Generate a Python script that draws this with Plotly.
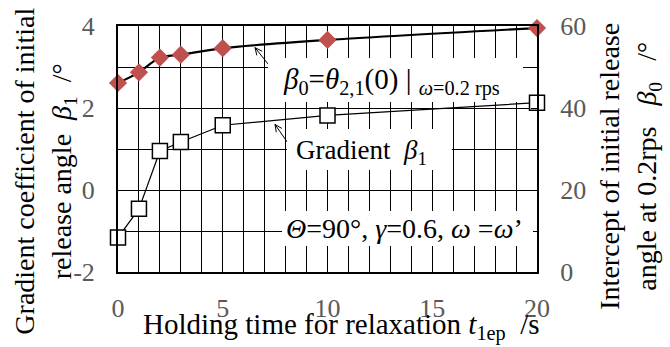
import math
import plotly.graph_objects as go

# ---- data ----
t_hold = [0, 1, 2, 3, 5, 10, 20]
beta1 = [-1.16, -0.46, 0.95, 1.17, 1.58, 1.82, 2.13]
beta0 = [46.1, 48.7, 52.3, 53.0, 54.6, 56.6, 59.5]

x_ticks = [0, 5, 10, 15, 20]
y1_ticks = [-2, 0, 2, 4]
y2_ticks = [0, 20, 40, 60]

FONT = "Liberation Serif"
TICKC = "#595959"
W, H = 670, 347
L, R, T, B = 118, 133, 22, 75
PW, PH = W - L - R, H - T - B


def px(xp):
    return (xp - L) / PW


def py(yp):
    return (H - B - yp) / PH


# grid positions every unit on the left axis, labels only on the listed ticks
y1_grid = list(range(y1_ticks[0], y1_ticks[-1] + 1))
y1_text = [str(v) if v in y1_ticks else "" for v in y1_grid]
y2_grid = list(range(y2_ticks[0], y2_ticks[-1] + 1, 10))
y2_text = [str(v) if v in y2_ticks else "" for v in y2_grid]

fig = go.Figure()
fig.add_trace(go.Scatter(
    x=t_hold, y=beta1, mode="lines+markers", yaxis="y",
    line=dict(color="black", width=1.2),
    marker=dict(symbol="square", size=15, color="white",
                line=dict(color="black", width=1.5)),
    cliponaxis=False, showlegend=False))
fig.add_trace(go.Scatter(
    x=t_hold, y=beta0, mode="lines+markers", yaxis="y2",
    line=dict(color="black", width=2.2, shape="spline", smoothing=0.8),
    marker=dict(symbol="diamond", size=14, color="#C0504D",
                line=dict(width=0)),
    cliponaxis=False, showlegend=False))

tickfont = dict(family=FONT, size=26, color=TICKC)
fig.update_layout(
    width=W, height=H,
    margin=dict(l=L, r=R, t=T, b=B),
    paper_bgcolor="white", plot_bgcolor="white",
    xaxis=dict(range=[x_ticks[0], x_ticks[-1]], tickvals=x_ticks,
               tickfont=tickfont,
               showgrid=True, gridcolor="black", gridwidth=1,
               ticks="outside", ticklen=12, tickcolor="rgba(0,0,0,0)",
               minor=dict(dtick=1, showgrid=True, gridcolor="black",
                          gridwidth=1),
               showline=True, linecolor="black", linewidth=2, mirror=True,
               zeroline=False),
    yaxis=dict(range=[y1_ticks[0], y1_ticks[-1]], tickvals=y1_grid,
               ticktext=y1_text, tickfont=tickfont,
               showgrid=True, gridcolor="black", gridwidth=1,
               showline=True, linecolor="black", linewidth=2, mirror=True,
               zeroline=False, ticks="", ticklabelstandoff=16),
    yaxis2=dict(range=[y2_ticks[0], y2_ticks[-1]], tickvals=y2_grid,
                ticktext=y2_text, tickfont=tickfont,
                overlaying="y", side="right", showgrid=False,
                ticks="inside", ticklen=6, tickcolor="black",
                showline=True, linecolor="black", linewidth=2,
                zeroline=False, ticklabelstandoff=16),
)

# arrows drawn as shapes (line + open head), positions in pixels -> paper
def arrow(tail, head, hl=8, ang=25):
    dx, dy = tail[0] - head[0], tail[1] - head[1]
    n = math.hypot(dx, dy)
    ux, uy = dx / n, dy / n
    pts = []
    for s in (1, -1):
        a = math.radians(ang) * s
        rx = ux * math.cos(a) - uy * math.sin(a)
        ry = ux * math.sin(a) + uy * math.cos(a)
        pts.append((head[0] + hl * rx, head[1] + hl * ry))
    fig.add_shape(type="line", xref="paper", yref="paper",
                  x0=px(tail[0]), y0=py(tail[1]), x1=px(head[0]), y1=py(head[1]),
                  line=dict(color="black", width=1))
    path = "M {:.5f},{:.5f} L {:.5f},{:.5f} L {:.5f},{:.5f}".format(
        px(pts[0][0]), py(pts[0][1]), px(head[0]), py(head[1]),
        px(pts[1][0]), py(pts[1][1]))
    fig.add_shape(type="path", xref="paper", yref="paper", path=path,
                  line=dict(color="black", width=1))


ann = []
# white boxes behind the in-plot labels
boxes = [(268, 55, 523, 99), (287, 127, 452, 168), (282, 210, 533, 245)]
for x0, y0, x1, y1 in boxes:
    ann.append(dict(text="&nbsp;", x=px((x0 + x1) / 2), y=py((y0 + y1) / 2),
                    xanchor="center", yanchor="middle",
                    width=x1 - x0, height=y1 - y0, borderpad=0, borderwidth=0,
                    bgcolor="white"))

ann.append(dict(
    text="<i>β</i><sub>0</sub>=<i>θ</i><sub>2,1</sub>(0) | <sub><i>ω</i>=0.2 rps</sub>",
    x=px(281), y=py(78), xanchor="left", yanchor="middle",
    font=dict(family=FONT, size=29, color="black")))
ann.append(dict(
    text="Gradient&nbsp;&nbsp;<i>β</i><sub>1</sub>",
    x=px(294), y=py(150), xanchor="left", yanchor="middle",
    font=dict(family=FONT, size=27, color="black")))
ann.append(dict(
    text="<i>Θ</i>=90°, <i>γ</i>=0.6, <i>ω</i> =<i>ω</i>’",
    x=px(284), y=py(228), xanchor="left", yanchor="middle",
    font=dict(family=FONT, size=28, color="black")))
# axis titles
ann.append(dict(
    text="Gradient coefficient of initial<br>release angle&nbsp;&nbsp;<i>β</i><sub>1</sub>&nbsp;&nbsp;/°",
    x=px(45), y=py(170), textangle=-90, xanchor="center", yanchor="middle",
    font=dict(family=FONT, size=28, color="black")))
ann.append(dict(
    text="Intercept of initial release<br>angle at 0.2rps&nbsp;&nbsp;&nbsp;<i>β</i><sub>0</sub>&nbsp;&nbsp;&nbsp;/°",
    x=px(630), y=py(165), textangle=-90, xanchor="center", yanchor="middle",
    font=dict(family=FONT, size=28, color="black")))
ann.append(dict(
    text="Holding time for relaxation <i>t</i><sub>1ep</sub>&nbsp;&nbsp;/s",
    x=px(341), y=py(327), xanchor="center", yanchor="middle",
    font=dict(family=FONT, size=29, color="black")))

for a in ann:
    a.setdefault("xref", "paper")
    a.setdefault("yref", "paper")
    a.setdefault("showarrow", False)
fig.update_layout(annotations=ann)

arrow((277, 72), (255, 44))
arrow((292, 147), (275, 122))

fig.write_html("out.html")
